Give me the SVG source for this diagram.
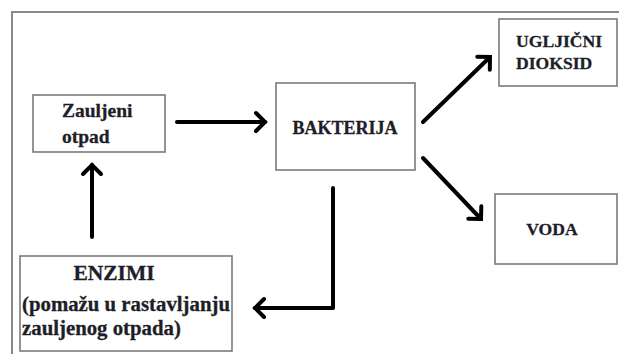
<svg xmlns="http://www.w3.org/2000/svg" width="619" height="354" viewBox="0 0 619 354">
<style>
.box{fill:#fff;stroke:#7a7a7a;stroke-width:1.6}
.t{font-family:'Liberation Serif','DejaVu Serif',serif;font-weight:700;fill:#1e1e28;stroke:#1e1e28;stroke-width:0.3}
.c{fill:none;stroke:#000;stroke-width:4;stroke-linecap:round;stroke-linejoin:round}
</style>
<defs>
<marker id="ah" markerUnits="userSpaceOnUse" markerWidth="16" markerHeight="24" refX="10" refY="10" orient="auto" overflow="visible">
<path d="M1,1 L10,10 L1,19" fill="none" stroke="#000" stroke-width="4" stroke-linecap="round" stroke-linejoin="miter"/>
</marker>
</defs>
<rect width="619" height="354" fill="#fff"/>
<path d="M12,354 V12 H619" fill="none" stroke="#8a8a8a" stroke-width="2"/>
<g id="zauljeni">
<rect class="box" x="33" y="95" width="132" height="57"/>
<text class="t" x="62" y="117" font-size="19.5">Zauljeni</text>
<text class="t" x="62" y="143" font-size="19.5">otpad</text>
</g>
<g id="bakterija">
<rect class="box" x="276" y="83" width="139" height="87"/>
<text class="t" x="345" y="134" font-size="18" text-anchor="middle">BAKTERIJA</text>
</g>
<g id="ugljicni">
<rect class="box" x="499" y="19" width="118" height="67"/>
<text class="t" x="516" y="47" font-size="17.6">UGLJIČNI</text>
<text class="t" x="516" y="69" font-size="17.6">DIOKSID</text>
</g>
<g id="voda">
<rect class="box" x="495" y="194" width="122" height="70"/>
<text class="t" x="552" y="235" font-size="17.6" text-anchor="middle">VODA</text>
</g>
<g id="enzimi">
<rect class="box" x="20" y="256" width="212" height="95"/>
<text class="t" x="114" y="280" font-size="21.5" text-anchor="middle">ENZIMI</text>
<text class="t" x="22" y="311" font-size="20.8">(pomažu u rastavljanju</text>
<text class="t" x="22" y="335" font-size="20.8">zauljenog otpada)</text>
</g>
<g id="connectors">
<path class="c" d="M177,122 H265" marker-end="url(#ah)"/>
<path class="c" d="M423,122 L490,57" marker-end="url(#ah)"/>
<path class="c" d="M423,158 L481,219" marker-end="url(#ah)"/>
<path class="c" d="M333,188 V308 H255" marker-end="url(#ah)"/>
<path class="c" d="M92,237 V165" marker-end="url(#ah)"/>
</g>
</svg>
